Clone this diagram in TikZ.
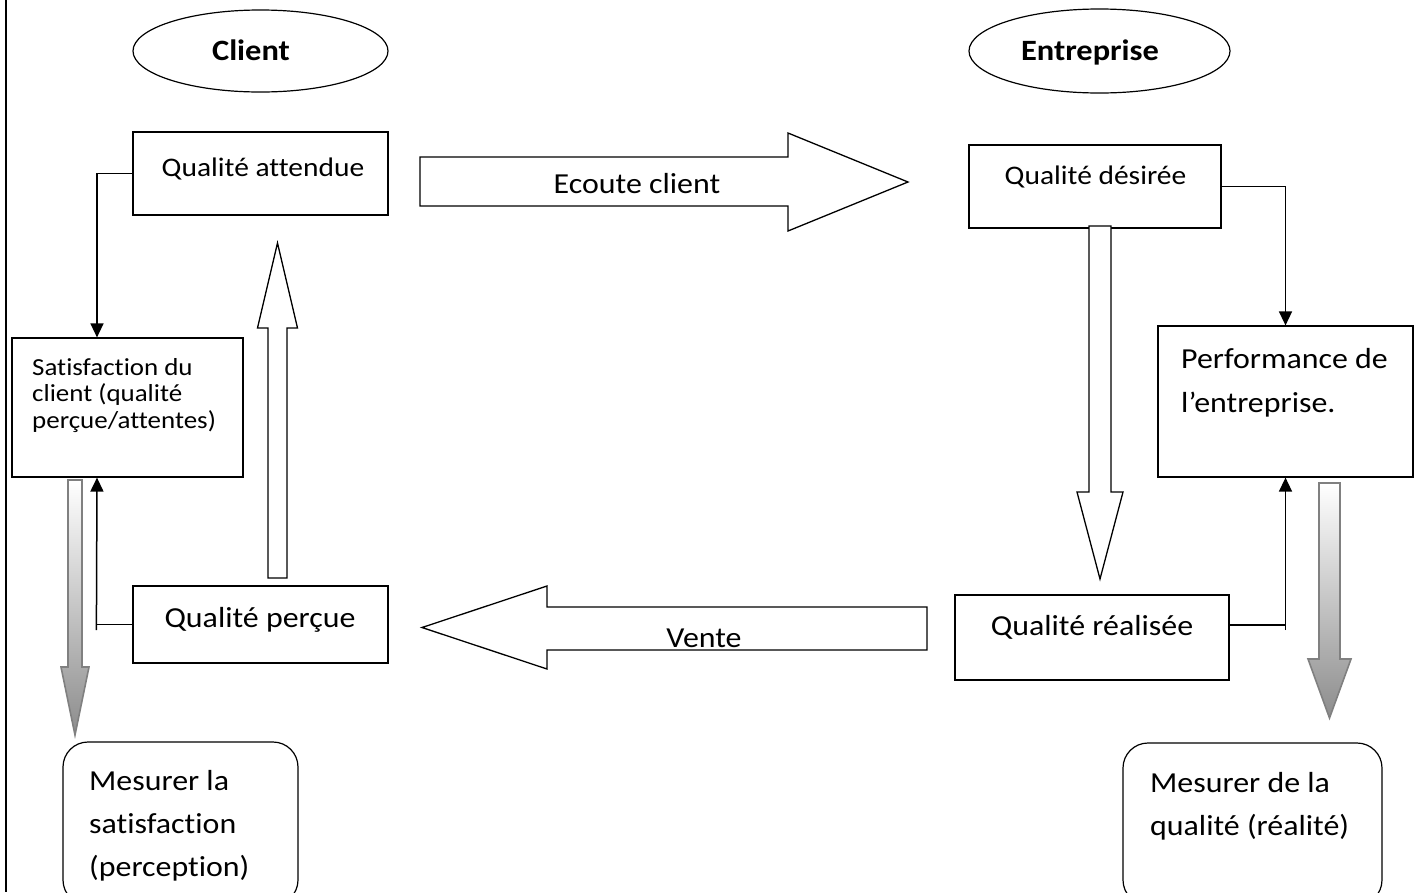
\documentclass[tikz,border=0pt]{standalone}
\usepackage{fontspec}
\setmainfont{Carlito}[FakeStretch=1.1, Ligatures=NoCommon]
\usetikzlibrary{shapes.geometric,arrows.meta,calc}

\begin{document}
\begin{tikzpicture}[
    x=1pt, y=-1pt,
    box/.style={draw, rectangle, line width=1.2pt, inner sep=0pt},
    oval/.style={draw, ellipse, line width=1.2pt, inner sep=0pt},
    mesure/.style={draw, rectangle, rounded corners=25pt, line width=1.2pt, inner sep=0pt},
    txt/.style={inner sep=0pt, anchor=base, font=\fontsize{29}{35}\selectfont},
    smalltxt/.style={txt, font=\fontsize{26.8}{32}\selectfont},
    heading/.style={txt, font=\fontsize{29.5}{35}\selectfont\bfseries},
    txtl/.style={inner sep=0pt, anchor=base west, align=left},
    link/.style={line width=1.5pt, -{Triangle[length=14pt,width=13pt]}},
    whitearrow/.style={draw, fill=white, line width=1.3pt, line join=miter},
    greyarrow/.style={draw=gray, line width=1.6pt, line join=miter, top color=white, bottom color=gray!90}
]
\useasboundingbox (0,0) rectangle (1421,892);
\draw[line width=1.5pt] (6,0) -- (6,892);

% Client side
\node[oval, minimum width=255, minimum height=82] (client) at (260.5,51) {};
\node[heading] (client-t) at (251,60) {Client};

\node[box, minimum width=255, minimum height=83] (attendue) at (260.5,173.5) {};
\node[smalltxt] (attendue-t) at (263,176) {Qualité attendue};

\node[box, minimum width=231, minimum height=139] (satisf) at (127.5,407.5) {};
\node[txtl, font=\fontsize{24.5}{26.5}\selectfont] (satisf-t) at (32,428)
    {Satisfaction du\\client (qualité\\perçue/attentes)};

\node[box, minimum width=255, minimum height=77] (percue) at (260.5,624.5) {};
\node[txt] (percue-t) at (260,627) {Qualité perçue};

\node[mesure, minimum width=235, minimum height=163] (msat) at (180.5,823.5) {};
\node[txtl, font=\fontsize{29}{43}\selectfont] (msat-t) at (89,876)
    {Mesurer la\\satisfaction\\(perception)};

% Entreprise side
\node[oval, minimum width=261, minimum height=84] (entr) at (1099.5,51) {};
\node[heading] (entr-t) at (1090,60) {Entreprise};

\node[box, minimum width=252, minimum height=83] (desiree) at (1095,186.5) {};
\node[smalltxt] (desiree-t) at (1095.5,184) {Qualité désirée};

\node[box, minimum width=255, minimum height=151] (perf) at (1285.5,401.5) {};
\node[txtl, font=\fontsize{29}{44}\selectfont] (perf-t) at (1181,412)
    {Performance de\\l’entreprise.};

\node[box, minimum width=274, minimum height=85] (realisee) at (1092,637.5) {};
\node[txt] (realisee-t) at (1092,635) {Qualité réalisée};

\node[mesure, minimum width=259, minimum height=162] (mqual) at (1252.5,824) {};
\node[txtl, font=\fontsize{29}{43}\selectfont] (mqual-t) at (1150,835)
    {Mesurer de la\\qualité (réalité)};

% Block arrows
\draw[whitearrow] (420,157) -- (788,157) -- (788,133) -- (908,182) -- (788,231)
    -- (788,206) -- (420,206) -- cycle;
\node[txt] (ecoute-t) at (637,193) {Ecoute client};

\draw[whitearrow] (927,607) -- (547,607) -- (547,586) -- (422,627.5) -- (547,669)
    -- (547,650) -- (927,650) -- cycle;
\node[txt] (vente-t) at (704,647) {Vente};

\draw[whitearrow] (268,578) -- (268,328) -- (257.5,328) -- (277.5,243) -- (297.5,328)
    -- (287,328) -- (287,578) -- cycle;
\draw[whitearrow] (1089,226) -- (1089,492) -- (1077,492) -- (1100,579) -- (1123,492)
    -- (1111,492) -- (1111,226) -- cycle;

\draw[greyarrow] (68,480) -- (68,667) -- (61,667) -- (75,735) -- (89,667)
    -- (82,667) -- (82,480) -- cycle;
\draw[greyarrow] (1319,483) -- (1319,659) -- (1308,659) -- (1329.5,718) -- (1351,659)
    -- (1340,659) -- (1340,483) -- cycle;

% Connectors
\draw[link] (attendue.west) -| ([xshift=-30.5]satisf.north);
\draw[line width=1.5pt] (percue.west) -- ++(-36,0);
\draw[link] ($(percue.west)+(-36,5.5)$) -- ([xshift=-30.5]satisf.south);

\draw[link] (desiree.east) -| (perf.north);
\draw[line width=1.5pt] ([yshift=12.5]realisee.east) -- ++(56.5,0);
\draw[link] ($(perf.south |- realisee.east)+(0,-7.5)$) -- (perf.south);
\end{tikzpicture}
\end{document}
